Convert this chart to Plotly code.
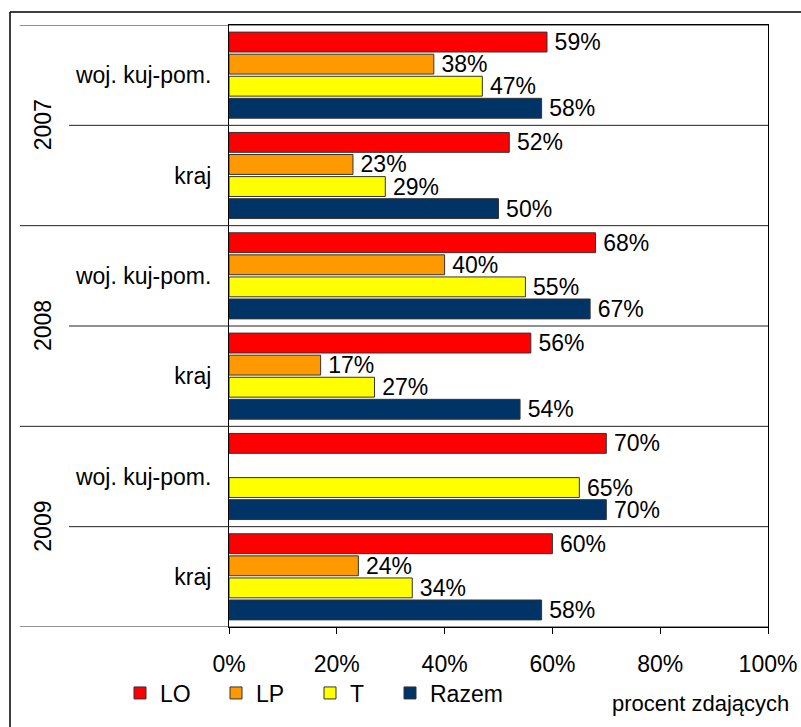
import plotly.graph_objects as go

# ---- data ----
years = ["2007", "2008", "2009"]
regions = ["woj. kuj-pom.", "kraj"]
series_names = ["LO", "LP", "T", "Razem"]
lo = [59, 52, 68, 56, 70, 60]
lp = [38, 23, 40, 17, None, 24]
t = [47, 29, 55, 27, 65, 34]
razem = [58, 50, 67, 54, 70, 58]
x_ticks = [0, 20, 40, 60, 80, 100]
x_title = "procent zdających"

colors = ["#FF0000", "#FF9900", "#FFFF00", "#003366"]
FONT = "Liberation Sans, Arial, sans-serif"
FS = 23

FIG_W, FIG_H = 801, 727

cat_labels = [r for y in years for r in regions]
cat_pos = list(range(len(cat_labels)))

# plot area in pixels
L, R, T, B = 229, 768, 25, 627
W, H = R - L, B - T
def px_x(p):
    return (p - L) / W
def px_y(p):
    return (B - p) / H

legend_x = [120, 216, 310, 390]   # x of each legend entry start
legend_names = ["legend", "legend2", "legend3", "legend4"]

fig = go.Figure()
for name, vals, col, lg in zip(series_names, [lo, lp, t, razem], colors, legend_names):
    fig.add_trace(go.Bar(
        name=name, y=cat_pos, x=vals, orientation="h", legend=lg,
        marker=dict(color=col, line=dict(color="#333333", width=1)),
        text=[None if v is None else f"\u2009{v}%" for v in vals],
        textposition="outside", constraintext="none", cliponaxis=False,
        textfont=dict(family=FONT, size=FS, color="black"),
    ))

shapes = []
for i in range(len(cat_labels) + 1):
    yb = i - 0.5
    start = 20 if i % 2 == 0 else 69
    shapes.append(dict(type="line", xref="paper", yref="y",
                       x0=px_x(start), x1=1, y0=yb, y1=yb,
                       line=dict(color="#222222", width=1)))
shapes.append(dict(type="line", xref="paper", yref="paper",
                   x0=px_x(10), x1=px_x(820), y0=px_y(12), y1=px_y(12),
                   line=dict(color="black", width=1.5)))
shapes.append(dict(type="line", xref="paper", yref="paper",
                   x0=px_x(10), x1=px_x(10), y0=px_y(12), y1=px_y(760),
                   line=dict(color="black", width=1.5)))

annotations = []
for k, yr in enumerate(years):
    annotations.append(dict(xref="paper", yref="y", x=px_x(43), y=2 * k + 0.5,
                            text=yr, textangle=-90, showarrow=False,
                            font=dict(family=FONT, size=FS, color="black"),
                            xanchor="center", yanchor="middle"))
annotations.append(dict(xref="paper", yref="paper", x=px_x(791), y=px_y(703),
                        text=x_title, showarrow=False, xanchor="right", yanchor="middle",
                        font=dict(family=FONT, size=FS - 1, color="black")))

layout_legends = {}
for lg, lx in zip(legend_names, legend_x):
    layout_legends[lg] = dict(orientation="h", x=px_x(lx), y=px_y(693),
                              xanchor="left", yanchor="middle",
                              font=dict(family=FONT, size=FS, color="black"),
                              bgcolor="rgba(0,0,0,0)")

fig.update_layout(
    width=FIG_W, height=FIG_H, autosize=False,
    margin=dict(l=L, r=FIG_W - R, t=T, b=FIG_H - B, autoexpand=False),
    paper_bgcolor="white", plot_bgcolor="white",
    barmode="group", bargap=0.12, bargroupgap=0.1,
    font=dict(family=FONT, size=FS, color="black"),
    showlegend=True,
    xaxis=dict(range=[0, 100], tickvals=x_ticks, ticktext=[f"{v}%" for v in x_ticks],
               showgrid=False, zeroline=False, showline=True, linecolor="black", linewidth=1,
               mirror=True, ticks="outside", ticklen=6, tickcolor="black",
               ticklabelstandoff=10, fixedrange=True, automargin=False),
    yaxis=dict(range=[len(cat_labels) - 0.5, -0.5], tickvals=cat_pos, ticktext=cat_labels,
               showgrid=False, zeroline=False, showline=True, linecolor="black", linewidth=1,
               mirror=True, ticks="", ticklabelstandoff=12, fixedrange=True, automargin=False),
    shapes=shapes, annotations=annotations,
    **layout_legends,
)

fig.write_html(
    "out.html",
    config={"responsive": False, "displayModeBar": False},
    post_script="document.body.style.margin='0';document.documentElement.style.overflow='hidden';document.body.style.overflow='hidden';",
)
